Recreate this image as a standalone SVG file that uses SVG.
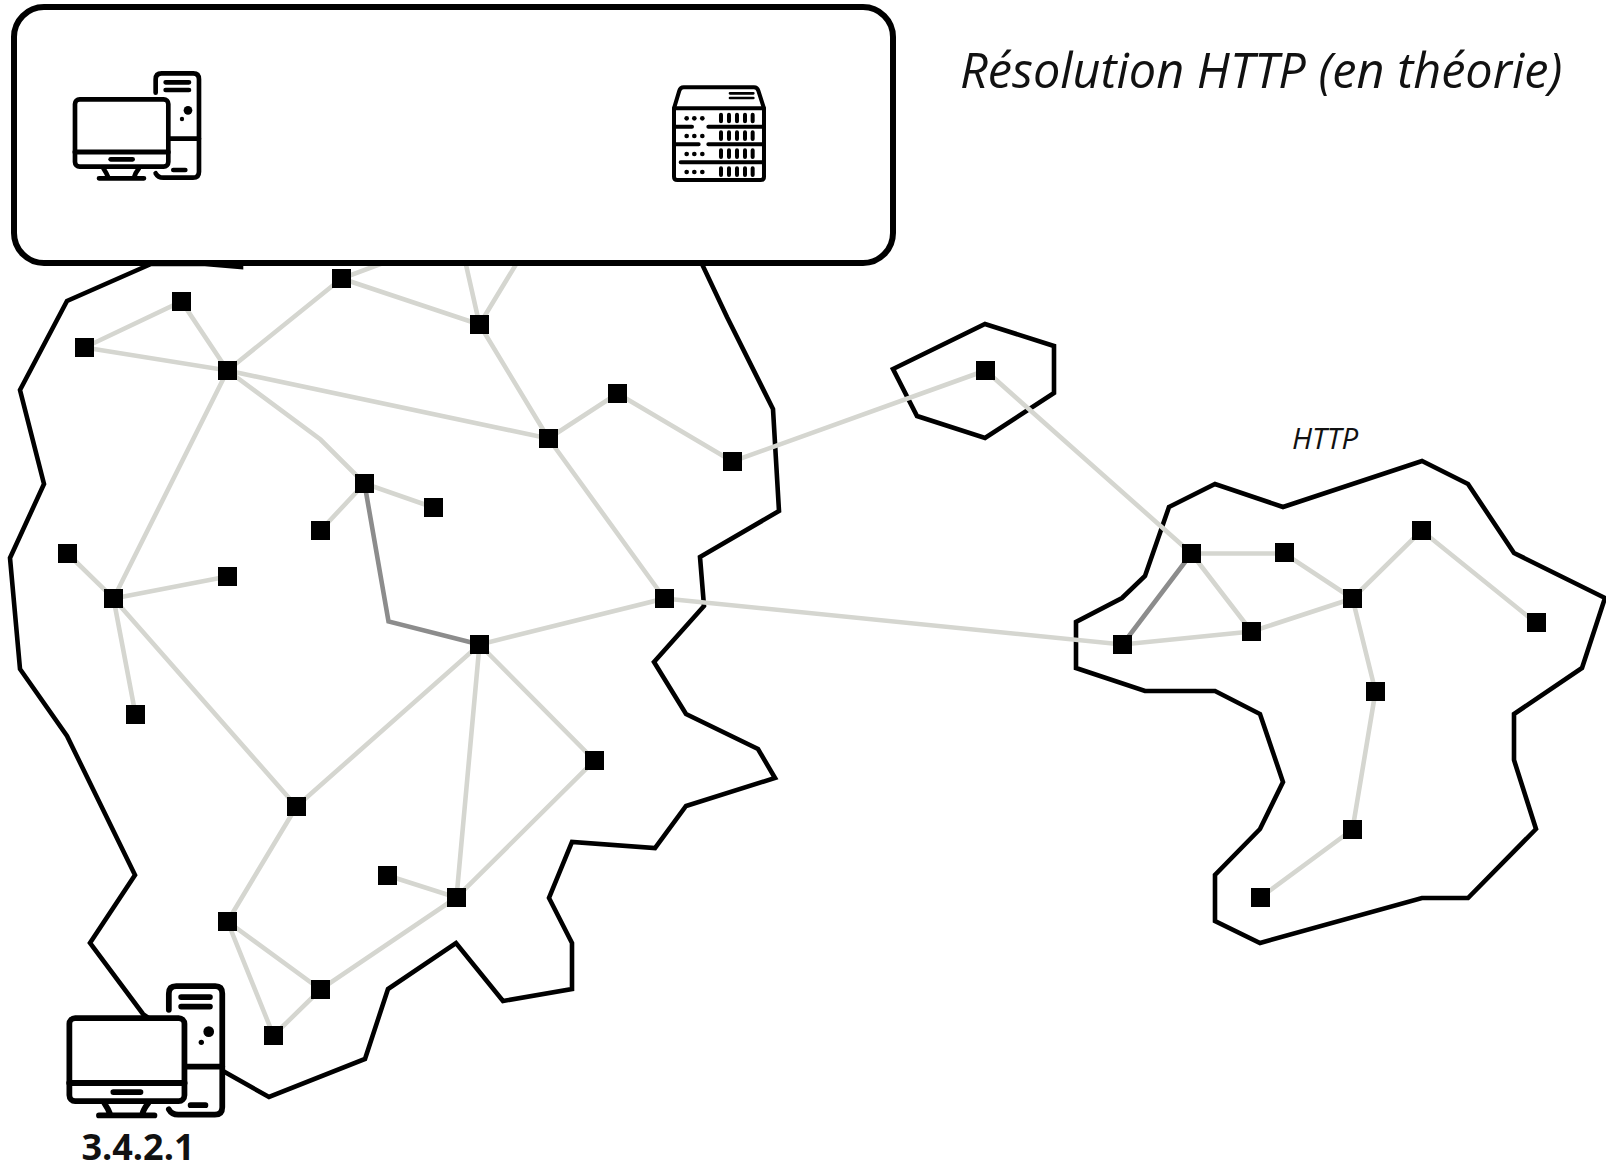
<svg xmlns="http://www.w3.org/2000/svg" width="1606" height="1163" viewBox="0 0 1606 1163">
<style>
.zone{fill:none;stroke:#000;stroke-width:4.600}
.l{fill:none;stroke:#d5d6d0;stroke-width:4.600}
.d{fill:none;stroke:#8c8c8c;stroke-width:4.600}
.n{fill:#000}
text{font-family:"Open Sans","Noto Sans",sans-serif;fill:#111}
</style>
<defs>
<rect id="sq" x="-9.5" y="-9.500" width="19" height="19" class="n"/>
<g id="pc" fill="none" stroke="#000" stroke-width="14" stroke-linecap="round" stroke-linejoin="round">
<path d="M467 278V238Q467 220 485 220H580Q597 220 597 238V515Q597 533 579 533H490Q474 533 467 520" fill="#fff"/>
<path d="M497 247H567M497 270H567M505 416H597M520 510H556"/>
<circle cx="564" cy="331" r="13" fill="#000" stroke="none"/><circle cx="546" cy="357" r="6.500" fill="#000" stroke="none"/>
<rect x="225" y="298" width="280" height="202" rx="14" fill="#fff"/>
<path d="M225 456H505" stroke-width="15"/><path d="M332 478H398"/>
<path d="M310 505Q320 520 325 533M417 505Q405 520 402 533M297 535H432"/>
</g>
<g id="srv" fill="none" stroke="#000" stroke-width="12" stroke-linecap="round" stroke-linejoin="round">
<path d="M102 145L118 92Q121 82 131 82H342Q352 82 355 92L372 145V350Q372 360 362 360H112Q102 360 102 350Z" fill="#fff"/>
<path d="M102 145H372M105 200H156M205 200H370M105 253H176M205 253H370M122 307H370"/>
<path d="M270 100H340M270 114H340" stroke-width="8"/>
<g fill="#000" stroke="none">
<circle cx="140" cy="175" r="7"/><circle cx="163" cy="175" r="7"/><circle cx="187" cy="175" r="7"/>
<circle cx="140" cy="228" r="7"/><circle cx="163" cy="228" r="7"/><circle cx="187" cy="228" r="7"/>
<circle cx="140" cy="282" r="7"/><circle cx="163" cy="282" r="7"/><circle cx="187" cy="282" r="7"/>
<circle cx="140" cy="336" r="7"/><circle cx="163" cy="336" r="7"/><circle cx="187" cy="336" r="7"/>
</g>
<path d="M243 164V184M267 164V184M291 164V184M315 164V184M338 164V184M243 217V237M267 217V237M291 217V237M315 217V237M338 217V237M243 271V291M267 271V291M291 271V291M315 271V291M338 271V291M243 325V345M267 325V345M291 325V345M315 325V345M338 325V345"/>
</g>
</defs>
<g id="zones">
<path class="zone" d="M151 264L67 301L20 390L44 484L10 558L20 669L67 736L135 875L90 943L143 1014L223 1071L269 1097L365 1059L388 989L456 943L503 1001L572 989L572 943L549 898L572 842L655 848L686 806L775 778L758 749L686 714L654 662L704 606L700 557L779 511L773 409L727 317L702 264L600 200L241 200L241 267L205 264Z"/>
<path class="zone" d="M893 369L985 324L1054 346V393L985 438L917 416Z"/>
<path class="zone" d="M1169 507L1215 484L1283 507L1422 461L1468 484L1514 553L1605 598L1582 668L1514 714V760L1536 829L1468 898H1422L1260 943L1215 921V875L1260 829L1283 782L1260 714L1215 691H1145L1076 668V622L1122 598L1145 576Z"/>
</g>
<g id="connectors" transform="translate(.5 .5)">
<path class="l" d="M84 347L181 301L227 370L84 347M227 370L341 278L470 230M341 278L479 324L460 240M479 324L530 240M227 370L548 438L479 324M548 438L617 393L732 461L985 370L1191 553M227 370L320 439L364 483L433 507M364 483L320 530M227 370L113 598L67 553M113 598L227 576M113 598L135 714M113 598L296 806L479 644L664 598L548 438M664 598L1122 644L1251 631L1352 598M479 644L594 760L456 897L479 644M387 875L456 897L320 989L227 921L296 806M227 921L273 1035L320 989M1191 553H1284L1352 598L1421 530L1535 622M1191 553L1251 631M1352 598L1375 691L1352 829L1260 897"/>
<path class="d" d="M364 483L388 621L479 644M1122 644L1191 553"/>
</g>
<g id="box"><rect x="14" y="7" width="879" height="256" rx="30" fill="#fff" stroke="#000" stroke-width="6"/></g>
<g id="nodes" transform="translate(.5 .5)">
<use id="n1" href="#sq" x="181" y="301"/><use id="n2" href="#sq" x="84" y="347"/><use id="n3" href="#sq" x="227" y="370"/><use id="n4" href="#sq" x="341" y="278"/><use id="n5" href="#sq" x="479" y="324"/><use id="n6" href="#sq" x="548" y="438"/><use id="n7" href="#sq" x="617" y="393"/><use id="n8" href="#sq" x="732" y="461"/><use id="n9" href="#sq" x="364" y="483"/><use id="n10" href="#sq" x="433" y="507"/><use id="n11" href="#sq" x="320" y="530"/><use id="n12" href="#sq" x="67" y="553"/><use id="n13" href="#sq" x="113" y="598"/><use id="n14" href="#sq" x="227" y="576"/><use id="n15" href="#sq" x="135" y="714"/><use id="n16" href="#sq" x="479" y="644"/><use id="n17" href="#sq" x="664" y="598"/><use id="n18" href="#sq" x="594" y="760"/><use id="n19" href="#sq" x="296" y="806"/><use id="n20" href="#sq" x="387" y="875"/><use id="n21" href="#sq" x="456" y="897"/><use id="n22" href="#sq" x="227" y="921"/><use id="n23" href="#sq" x="320" y="989"/><use id="n24" href="#sq" x="273" y="1035"/>
<use id="r1" href="#sq" x="985" y="370"/><use id="r2" href="#sq" x="1191" y="553"/><use id="r3" href="#sq" x="1284" y="552"/><use id="r4" href="#sq" x="1352" y="598"/><use id="r5" href="#sq" x="1421" y="530"/><use id="r6" href="#sq" x="1536" y="622"/><use id="r7" href="#sq" x="1251" y="631"/><use id="r8" href="#sq" x="1122" y="644"/><use id="r9" href="#sq" x="1375" y="691"/><use id="r10" href="#sq" x="1352" y="829"/><use id="r11" href="#sq" x="1260" y="897"/>
</g>
<g id="client"><use href="#pc" transform="scale(.3333)"/></g>
<g id="server"><use href="#srv" transform="translate(640 60) scale(.3333)"/></g>
<g id="host"><use href="#pc" transform="translate(-23.100 895.600) scale(.411)"/>
<text x="138" y="1160" font-size="36" font-weight="700" text-anchor="middle">3.4.2.1</text></g>
<text x="960" y="88" font-size="48.600" font-style="italic">Résolution HTTP (en théorie)</text>
<text x="1292" y="449" font-size="29.500" font-style="italic">HTTP</text>
</svg>
